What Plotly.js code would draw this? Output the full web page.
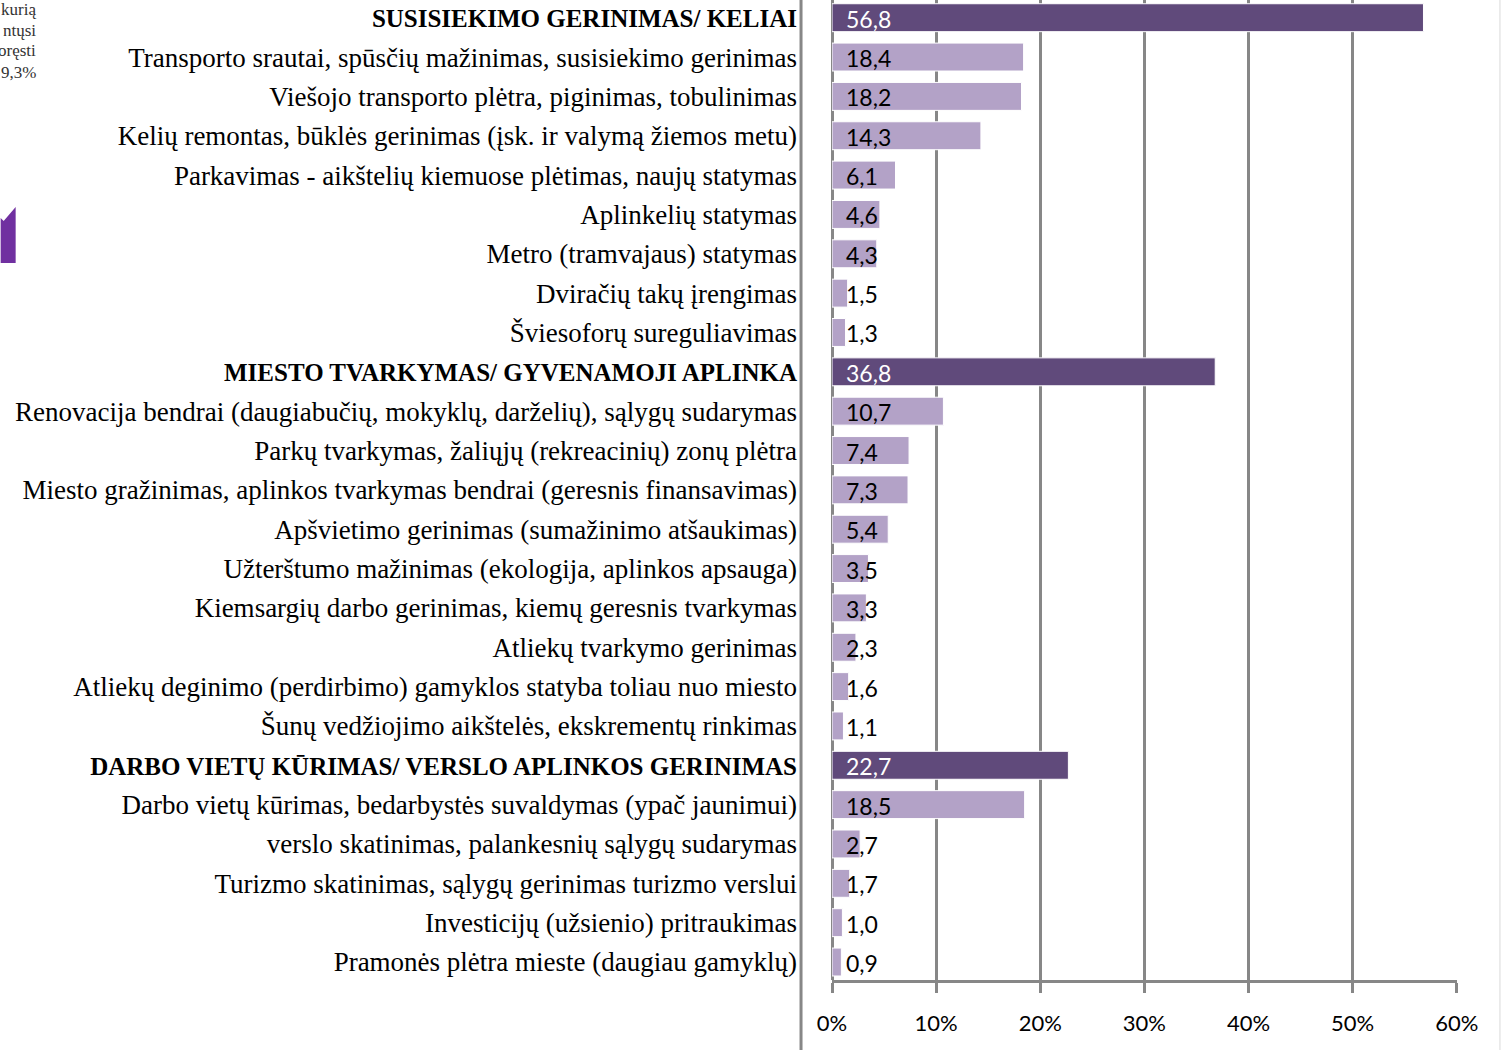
<!DOCTYPE html>
<html>
<head>
<meta charset="utf-8">
<script src="https://cdn.plot.ly/plotly-3.0.1.min.js"></script>
<style>html,body{margin:0;padding:0;background:#fff;}#chart{width:1502px;height:1050px;}</style>
</head>
<body>
<div id="chart"></div>
<script>
const categories = [
  "SUSISIEKIMO GERINIMAS/ KELIAI",
  "Transporto srautai, spūsčių mažinimas, susisiekimo gerinimas",
  "Viešojo transporto plėtra, piginimas, tobulinimas",
  "Kelių remontas, būklės gerinimas (įsk. ir valymą žiemos metu)",
  "Parkavimas - aikštelių kiemuose plėtimas, naujų statymas",
  "Aplinkelių statymas",
  "Metro (tramvajaus) statymas",
  "Dviračių takų įrengimas",
  "Šviesoforų sureguliavimas",
  "MIESTO TVARKYMAS/ GYVENAMOJI APLINKA",
  "Renovacija bendrai (daugiabučių, mokyklų, darželių), sąlygų sudarymas",
  "Parkų tvarkymas, žaliųjų (rekreacinių) zonų plėtra",
  "Miesto gražinimas, aplinkos tvarkymas bendrai (geresnis finansavimas)",
  "Apšvietimo gerinimas (sumažinimo atšaukimas)",
  "Užterštumo mažinimas (ekologija, aplinkos apsauga)",
  "Kiemsargių darbo gerinimas, kiemų geresnis tvarkymas",
  "Atliekų tvarkymo gerinimas",
  "Atliekų deginimo (perdirbimo) gamyklos statyba toliau nuo miesto",
  "Šunų vedžiojimo aikštelės, ekskrementų rinkimas",
  "DARBO VIETŲ KŪRIMAS/ VERSLO APLINKOS GERINIMAS",
  "Darbo vietų kūrimas, bedarbystės suvaldymas (ypač jaunimui)",
  "verslo skatinimas, palankesnių sąlygų sudarymas",
  "Turizmo skatinimas, sąlygų gerinimas turizmo verslui",
  "Investicijų (užsienio) pritraukimas",
  "Pramonės plėtra mieste (daugiau gamyklų)"
];
const values = [56.8, 18.4, 18.2, 14.3, 6.1, 4.6, 4.3, 1.5, 1.3,
                36.8, 10.7, 7.4, 7.3, 5.4, 3.5, 3.3, 2.3, 1.6, 1.1,
                22.7, 18.5, 2.7, 1.7, 1.0, 0.9];
const isHeader = [true, false, false, false, false, false, false, false, false,
                  true, false, false, false, false, false, false, false, false, false,
                  true, false, false, false, false, false];
const xTickValues = [0, 10, 20, 30, 40, 50, 60];
const xTickLabels = ["0%", "10%", "20%", "30%", "40%", "50%", "60%"];
const cutText = ["kurią", "ntųsi", "oręsti", "9,3%"];

const DARK = "#604a7b", LIGHT = "#b3a2c7", GRID = "#878787";
const idx = categories.map((_, i) => i);

// plot-area geometry in pixels
const L = 832, W = 625.5, H = 980;
const px = x => (x - L) / W;
const py = y => 1 - y / H;

const trace = {
  type: "bar",
  orientation: "h",
  x: values,
  y: idx,
  marker: {
    color: isHeader.map(h => h ? DARK : LIGHT),
    line: {color: "#ffffff", width: 1}
  },
  width: 0.71,
  hoverinfo: "none"
};

const labelAnn = values.map((v, i) => ({
  x: 0, y: i, xref: "x", yref: "y",
  text: v.toFixed(1).replace(".", ","),
  showarrow: false, xanchor: "left", yanchor: "middle",
  xshift: 12, yshift: -1,
  font: {family: "Lato, sans-serif", size: 23, color: isHeader[i] ? "#ffffff" : "#000000"}
}));

const cutY = [9, 30, 51, 72];
const cutAnn = cutText.map((t, i) => ({
  x: px(37), y: py(cutY[i]), xref: "paper", yref: "paper",
  text: t, showarrow: false, xanchor: "right", yanchor: "middle",
  font: {family: "Liberation Serif, serif", size: 17, color: "#333"}
}));

const layout = {
  width: 1502, height: 1050,
  margin: {l: 832, r: 44.5, t: 0, b: 70, pad: 0},
  paper_bgcolor: "#ffffff", plot_bgcolor: "#ffffff",
  showlegend: false,
  xaxis: {
    range: [0, 60.02],
    tickvals: xTickValues, ticktext: xTickLabels,
    showgrid: true, gridcolor: GRID, gridwidth: 3,
    zeroline: true, zerolinecolor: GRID, zerolinewidth: 3,
    showline: true, linecolor: GRID, linewidth: 3,
    ticks: "outside", ticklen: 10, tickwidth: 3, tickcolor: GRID,
    ticklabelstandoff: 12,
    tickfont: {family: "Lato, sans-serif", size: 22, color: "#000"},
    fixedrange: true
  },
  yaxis: {
    range: [24.457, -0.45],
    tickvals: idx,
    ticktext: categories.map((c, i) => isHeader[i]
      ? "<span style=\"font-size:25px\"><b>" + c + "</b></span>" : c),
    showgrid: false, zeroline: false, showline: false, ticks: "",
    ticklabelstandoff: 34,
    tickfont: {family: "Liberation Serif, serif", size: 27, color: "#000"},
    fixedrange: true
  },
  annotations: labelAnn.concat(cutAnn),
  shapes: [
    {type: "line", xref: "paper", yref: "paper",
     x0: px(801), x1: px(801), y0: py(1050), y1: 1,
     line: {color: GRID, width: 3}},
    {type: "line", xref: "paper", yref: "paper",
     x0: px(1500.5), x1: px(1500.5), y0: py(1050), y1: 1,
     line: {color: "#d9d9d9", width: 1}},
    {type: "path", xref: "paper", yref: "paper",
     path: "M" + [[0, 218], [3, 221], [15, 207], [15, 263], [0, 263]]
       .map(p => px(p[0]).toFixed(5) + "," + py(p[1]).toFixed(5)).join(" L") + " Z",
     fillcolor: "#7030a0", line: {width: 0}}
  ]
};

Plotly.newPlot("chart", [trace], layout, {displayModeBar: false, staticPlot: true});
</script>
</body>
</html>
